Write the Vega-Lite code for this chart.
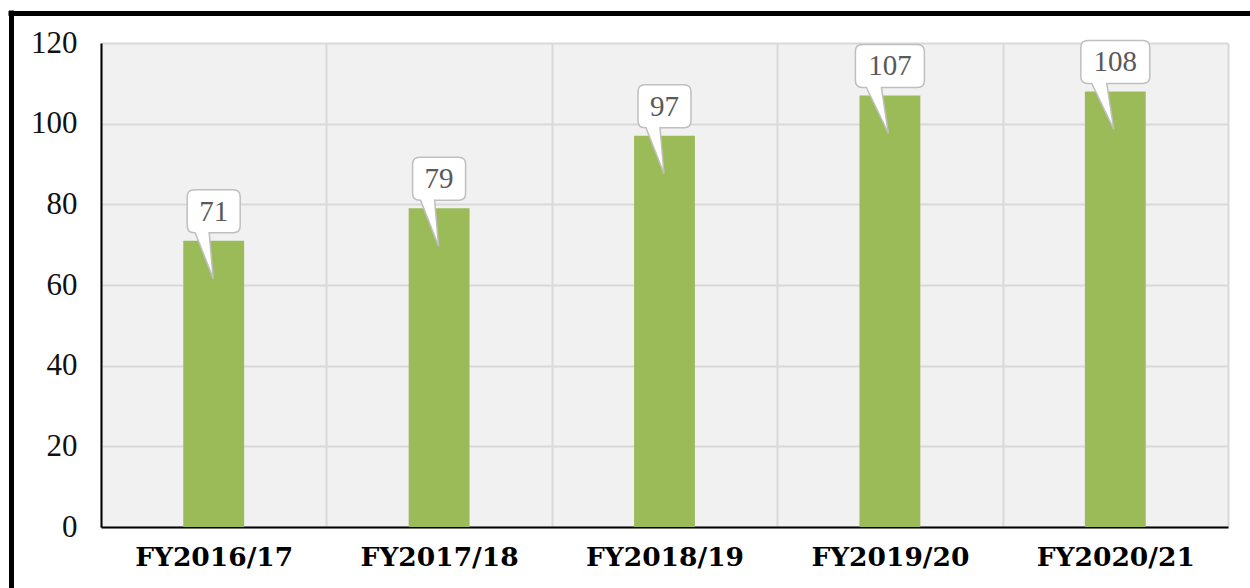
{
  "$schema": "https://vega.github.io/schema/vega-lite/v6.json",
  "width": 1127,
  "height": 484,
  "autosize": "none",
  "padding": {"left": 101, "top": 43, "right": 22, "bottom": 61},
  "background": "white",
  "config": {"view": {"fill": "#f1f1f1", "stroke": null}},
  "data": {"values": [
    {"year": "FY2016/17", "value": 71},
    {"year": "FY2017/18", "value": 79},
    {"year": "FY2018/19", "value": 97},
    {"year": "FY2019/20", "value": 107},
    {"year": "FY2020/21", "value": 108}
  ]},
  "layer": [
    {
      "layer": [
        {
          "mark": {"type": "bar", "color": "#9BBB59", "width": {"band": 0.27}},
          "encoding": {
            "x": {"field": "year", "type": "nominal", "sort": null,
              "scale": {"paddingInner": 0, "paddingOuter": 0},
              "axis": {"title": null, "tickBand": "extent", "grid": true, "gridColor": "#d9d9d9", "gridWidth": 2,
                "ticks": false, "domainColor": "#000000", "domainWidth": 2, "labelAngle": 0,
                "labelFont": "DejaVu Serif", "labelFontWeight": "bold", "labelFontSize": 26.5, "labelColor": "#000000",
                "labelPadding": 17}},
            "y": {"field": "value", "type": "quantitative",
              "scale": {"domain": [0, 120], "nice": false},
              "axis": {"title": null, "values": [0, 20, 40, 60, 80, 100, 120], "grid": true, "gridColor": "#d9d9d9", "gridWidth": 2,
                "ticks": false, "domainColor": "#000000", "domainWidth": 2,
                "labelFont": "Liberation Serif", "labelFontSize": 31, "labelColor": "#111111", "labelPadding": 24}}
          }
        },
        {
          "mark": {"type": "point", "filled": true, "fill": "white", "stroke": "#bfbfbf", "strokeWidth": 1.5, "size": 10000, "opacity": 1},
          "encoding": {
            "x": {"field": "year", "type": "nominal", "sort": null},
            "y": {"field": "value", "type": "quantitative"},
            "shape": {
              "condition": {"test": "datum.value >= 100", "value": "M -0.55 -1.02 L 0.55 -1.02 Q 0.69 -1.02 0.69 -0.88 L 0.69 -0.3 Q 0.69 -0.16 0.55 -0.16 L -0.17 -0.16 L -0.03 0.76 L -0.47 -0.16 L -0.55 -0.16 Q -0.69 -0.16 -0.69 -0.3 L -0.69 -0.88 Q -0.69 -1.02 -0.55 -1.02 Z"},
              "value": "M -0.39 -1.02 L 0.39 -1.02 Q 0.53 -1.02 0.53 -0.88 L 0.53 -0.3 Q 0.53 -0.16 0.39 -0.16 L -0.09 -0.16 L -0.01 0.76 L -0.37 -0.16 L -0.39 -0.16 Q -0.53 -0.16 -0.53 -0.3 L -0.53 -0.88 Q -0.53 -1.02 -0.39 -1.02 Z"
            }
          }
        },
        {
          "mark": {"type": "text", "font": "Liberation Serif", "fontSize": 29, "color": "#595959", "baseline": "middle", "dy": -29},
          "encoding": {
            "x": {"field": "year", "type": "nominal", "sort": null},
            "y": {"field": "value", "type": "quantitative"},
            "text": {"field": "value", "type": "quantitative"}
          }
        }
      ]
    },
    {
      "mark": {"type": "point", "opacity": 0, "clip": true},
      "encoding": {
        "x": {"field": "value", "type": "quantitative",
          "scale": {"domain": [0, 1], "range": [-93, 1149], "zero": false, "nice": false},
          "axis": {"orient": "top", "offset": 30, "domainColor": "#000000", "domainWidth": 5, "labels": false, "ticks": false, "grid": false, "title": null}},
        "y": {"field": "value", "type": "quantitative",
          "scale": {"domain": [0, 1], "range": [600, -33], "zero": false, "nice": false},
          "axis": {"orient": "left", "offset": 90, "domainColor": "#000000", "domainWidth": 5, "labels": false, "ticks": false, "grid": false, "title": null}}
      }
    }
  ],
  "resolve": {"scale": {"x": "independent", "y": "independent"}, "axis": {"x": "independent", "y": "independent"}}
}
